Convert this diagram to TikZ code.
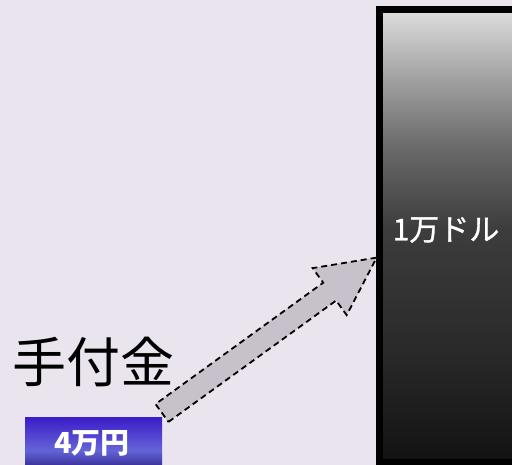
\documentclass[tikz,border=0pt]{standalone}
\usepackage{fontspec}
\newfontfamily\jpfont{Noto Sans CJK JP}
\newfontfamily\jpmedium[FakeBold=1]{Noto Sans CJK JP}
\usepackage{tikz}
\usetikzlibrary{positioning}

\definecolor{bgpaper}{HTML}{E9E4EE}
\definecolor{arrowfill}{HTML}{C6C1CB}
% 右侧柱体的竖向渐变(下暗上亮)
\pgfdeclareverticalshading{barshade}{100bp}{%
  color(0bp)=(black!93); color(25bp)=(black!93);
  color(37bp)=(black!84); color(51bp)=(black!76);
  color(60bp)=(black!58); color(68bp)=(black!35);
  color(75bp)=(black!13); color(100bp)=(black!13)}
% 左下角蓝色标签的渐变
\pgfdeclareverticalshading{blueshade}{100bp}{%
  color(0bp)=(rgb,255:red,40;green,28;blue,130); color(25bp)=(rgb,255:red,40;green,28;blue,130);
  color(45bp)=(rgb,255:red,100;green,100;blue,215);
  color(75bp)=(rgb,255:red,60;green,30;blue,200); color(100bp)=(rgb,255:red,60;green,30;blue,200)}

\begin{document}
\begin{tikzpicture}[
  x=1pt, y=1pt, % 1pt 对应参考图 1 像素,原点在左下角
  barbox/.style={draw=black, line width=7pt, shading=barshade, outer sep=0pt,
                 minimum width=160pt, minimum height=453.5pt, inner sep=0pt},
  tagbox/.style={shading=blueshade, minimum width=137pt, minimum height=54pt,
                 inner sep=0pt, outer sep=0pt},
  bigarrow/.style={fill=arrowfill, draw=black, line width=1.8pt,
                   dash pattern=on 6pt off 4pt, line join=miter},
  jplabel/.style={font=\jpfont, inner sep=0pt}
]
  % 背景与画面范围
  \clip (0,0) rectangle (512,465);
  \fill[bgpaper] (0,0) rectangle (512,465);

  % 右侧柱体
  \node[barbox, anchor=north west] (bar) at (379.5,455.5) {};
  \node[jplabel, text=white, font=\jpmedium\fontsize{30}{30}\selectfont] (amount) at (446,235) {1万ドル};

  % 左下角标签
  \node[tagbox, anchor=north west] (deposit) at (25,47) {};
  \node[jplabel, text=white, font=\jpfont\bfseries\fontsize{29}{29}\selectfont] (depositlabel) at (92,22) {4万円};
  \node[jplabel, text=black, font=\jpfont\fontsize{54}{54}\selectfont] (title) at (93.5,103) {手付金};

  % 粗箭头:从标签右上指向柱体
  \coordinate (tail) at (162,52);
  \coordinate (tip) at (377,207);
  \begin{scope}[shift={(tail)}, rotate=35.9]
    \draw[bigarrow] (0,-11) -- (207,-11) -- (207,-29) -- (265,0)
      -- (207,29) -- (207,11) -- (0,11) -- cycle;
  \end{scope}
\end{tikzpicture}
\end{document}
